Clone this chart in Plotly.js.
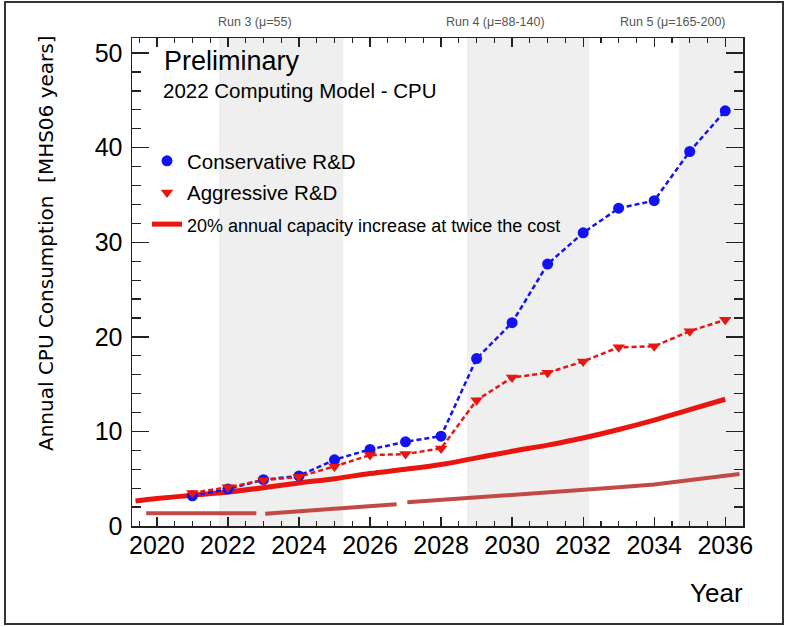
<!DOCTYPE html>
<html>
<head>
<meta charset="utf-8">
<script src="https://cdn.plot.ly/plotly-3.0.1.min.js"></script>
<style>html,body{margin:0;padding:0;background:#fff;}#chart{width:787px;height:627px;}</style>
</head>
<body>
<div id="chart"></div>
<script>
// ---- data ----
const years = [2021, 2022, 2023, 2024, 2025, 2026, 2027, 2028, 2029, 2030, 2031, 2032, 2033, 2034, 2035, 2036];
const conservative = [3.2, 3.9, 4.9, 5.3, 7.0, 8.1, 8.9, 9.5, 17.7, 21.5, 27.7, 31.0, 33.6, 34.4, 39.6, 43.9];
const aggressive = [3.5, 4.1, 4.85, 5.2, 6.3, 7.5, 7.6, 8.2, 13.3, 15.7, 16.2, 17.4, 18.9, 19.0, 20.6, 21.8];

const capYears = [2019.4, 2020, 2021, 2022, 2023, 2024, 2025, 2026, 2027, 2028, 2029, 2030, 2031, 2032, 2033, 2034, 2035, 2036];
const capacity20 = [2.65, 2.9, 3.25, 3.6, 4.05, 4.55, 5.0, 5.55, 6.0, 6.5, 7.2, 7.9, 8.55, 9.3, 10.2, 11.2, 12.3, 13.4];

const flatYears = [2019.7, 2022.8, null, 2023.05, 2024, 2025, 2026, 2026.75, null, 2027.05, 2028, 2029, 2030, 2031, 2032, 2033, 2034, 2035, 2036, 2036.4];
const flatBudget = [1.35, 1.35, null, 1.3, 1.55, 1.85, 2.1, 2.3, null, 2.5, 2.75, 3.0, 3.25, 3.5, 3.8, 4.1, 4.4, 4.85, 5.3, 5.5];

const runNames = ['Run 3 (\u03bc=55)', 'Run 4 (\u03bc=88-140)', 'Run 5 (\u03bc=165-200)'];
const runStart = [2021.75, 2028.73, 2034.7];
const runEnd = [2025.25, 2032.17, 2036.5];

const seriesNames = ['Conservative R&D', 'Aggressive R&D', '20% annual capacity increase at twice the cost'];

// ---- style ----
const FONT = '"Liberation Sans", Arial, Helvetica, sans-serif';
const BLUE = '#1212f5';
const RED = '#e8160f';
const BROWN = '#c24a46';

const traces = [
  {x: capYears, y: capacity20, mode: 'lines', name: '<span style="font-size:18px">' + seriesNames[2] + '</span>',
   line: {color: RED, width: 5, shape: 'spline'}, legendrank: 3, legendgroup: 'c'},
  {x: flatYears, y: flatBudget, mode: 'lines', showlegend: false, line: {color: BROWN, width: 4}, connectgaps: false, hoverinfo: 'skip'},
  {x: years, y: conservative, mode: 'lines', showlegend: false, line: {color: BLUE, width: 2.5, dash: '5px,3px'}},
  {x: years, y: aggressive, mode: 'lines', showlegend: false, line: {color: RED, width: 2.5, dash: '5px,3px'}},
  {x: years, y: conservative, mode: 'markers', name: seriesNames[0], marker: {color: BLUE, size: 11, symbol: 'circle'}, legendrank: 1, legendgroup: 'a'},
  {x: years, y: aggressive, mode: 'markers', name: seriesNames[1], marker: {color: RED, size: 11, symbol: 'triangle-down'}, legendrank: 2, legendgroup: 'b'}
];

const L = 132, R = 743, T = 38, B = 526;
const W = R - L, H = B - T;
const px = v => (v - L) / W;
const py = v => (B - v) / H;

const shapes = runStart.map((s, i) => ({
  type: 'rect', xref: 'x', yref: 'paper', x0: s, x1: runEnd[i], y0: 0, y1: 1,
  fillcolor: '#efefef', line: {width: 0}, layer: 'below'
}));
shapes.push({type: 'rect', xref: 'paper', yref: 'paper', x0: px(5), x1: px(783), y0: py(624), y1: py(2),
  line: {color: '#333', width: 2}, fillcolor: 'rgba(0,0,0,0)'});

const runLabelX = [255, 495, 673];
const annotations = runNames.map((t, i) => ({
  text: t, xref: 'paper', yref: 'paper', x: px(runLabelX[i]), y: py(22), showarrow: false,
  font: {family: FONT, size: 12.5, color: '#555'}, xanchor: 'center', yanchor: 'middle'
}));
annotations.push(
  {text: 'Preliminary', xref: 'paper', yref: 'paper', x: px(162), y: py(61), showarrow: false, xanchor: 'left', yanchor: 'middle',
   font: {family: FONT, size: 27, color: '#000'}},
  {text: '2022 Computing Model - CPU', xref: 'paper', yref: 'paper', x: px(161), y: py(90), showarrow: false, xanchor: 'left', yanchor: 'middle',
   font: {family: FONT, size: 20.5, color: '#000'}},
  {text: 'Year', xref: 'paper', yref: 'paper', x: px(745), y: py(593), showarrow: false, xanchor: 'right', yanchor: 'middle',
   font: {family: FONT, size: 26, color: '#000'}},
  {text: 'Annual CPU Consumption  [MHS06 years]', xref: 'paper', yref: 'paper', x: px(46), y: py(243), showarrow: false,
   textangle: -90, xanchor: 'center', yanchor: 'middle', font: {family: '"DejaVu Sans", sans-serif', size: 20, color: '#000'}}
);

const layout = {
  width: 787, height: 627,
  margin: {l: L, r: 787 - R, t: T, b: 627 - B, pad: 0},
  paper_bgcolor: '#fff', plot_bgcolor: 'rgba(0,0,0,0)',
  showlegend: true,
  legend: {x: px(147), y: py(141), xanchor: 'left', yanchor: 'top', bgcolor: 'rgba(0,0,0,0)',
    font: {family: FONT, size: 20.5, color: '#000'}, traceorder: 'grouped', tracegroupgap: 2, itemclick: false},
  xaxis: {range: [2019.3, 2036.5], tick0: 2020, dtick: 2, ticks: 'inside', ticklen: 9, tickwidth: 1.3, tickcolor: '#222',
    minor: {dtick: 0.5, tick0: 2020, ticks: 'inside', ticklen: 5, tickwidth: 1.2, tickcolor: '#222', showgrid: false},
    showline: true, mirror: 'allticks', linecolor: '#222', linewidth: 1.5, showgrid: false, zeroline: false,
    tickfont: {family: FONT, size: 25, color: '#000'}, ticklabelstandoff: -4, fixedrange: true},
  yaxis: {range: [0, 51.6], tick0: 0, dtick: 10, ticks: 'inside', ticklen: 17, tickwidth: 1.3, tickcolor: '#222',
    minor: {dtick: 2, ticks: 'inside', ticklen: 9, tickwidth: 1.2, tickcolor: '#222', showgrid: false},
    showline: true, mirror: 'allticks', linecolor: '#222', linewidth: 1.5, showgrid: false, zeroline: false,
    tickfont: {family: FONT, size: 25, color: '#000'}, ticklabelstandoff: 3, fixedrange: true},
  shapes: shapes,
  annotations: annotations
};

Plotly.newPlot('chart', traces, layout, {displayModeBar: false, staticPlot: true});
</script>
</body>
</html>
